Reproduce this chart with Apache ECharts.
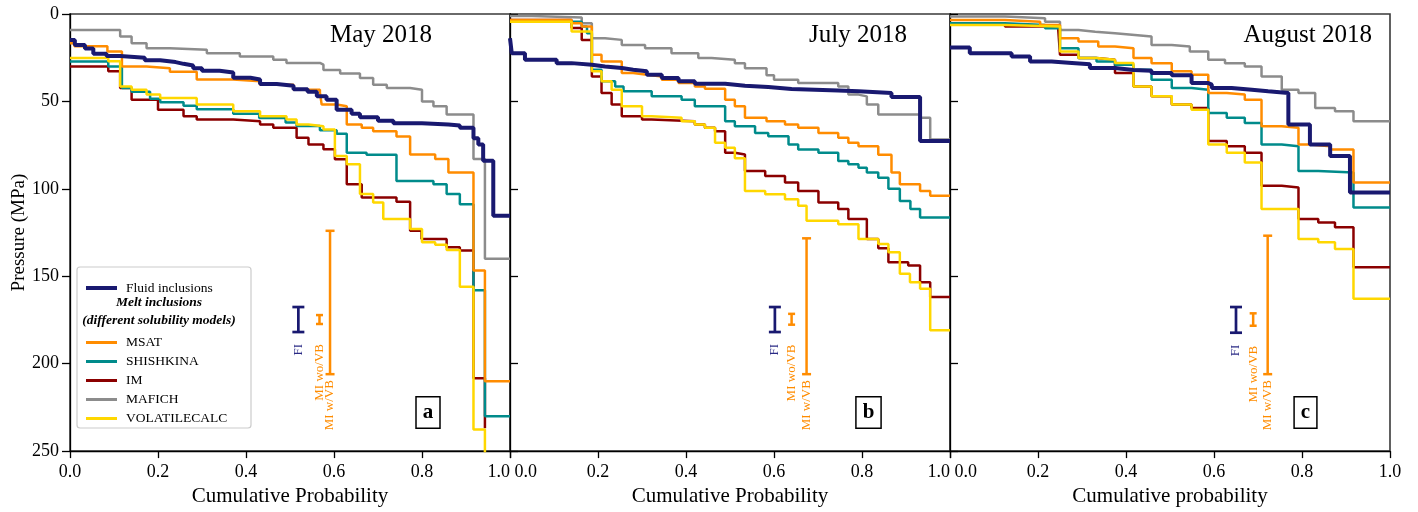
<!DOCTYPE html>
<html><head><meta charset="utf-8">
<script src="https://cdn.jsdelivr.net/npm/echarts@6/dist/echarts.min.js"></script>
<style>html,body{margin:0;padding:0;background:#fff}#c{width:1418px;height:512px}</style>
</head><body><div id="c"></div>
<script>
// ---------- data ----------
const panelTitles = ['May 2018', 'July 2018', 'August 2018'];
const panelLetters = ['a', 'b', 'c'];
const xAxisNames = ['Cumulative Probability', 'Cumulative Probability', 'Cumulative probability'];
const yAxisName = 'Pressure (MPa)';
const xTickStep = 0.2;
const yTickStep = 50;
const miNames = ['MSAT', 'SHISHKINA', 'IM', 'MAFICH', 'VOLATILECALC'];
const fiName = 'Fluid inclusions';
const errorLabels = ['FI', 'MI wo/VB', 'MI w/VB'];

// May 2018  [cumulative probability, pressure MPa]
const mayFI = [[0,14.8],[0.011,17.7],[0.034,19.7],[0.053,22.8],[0.083,24],[0.114,25],[0.17,26.5],[0.205,27.5],[0.24,28.5],[0.258,29.5],[0.28,31],[0.3,32.5],[0.34,33.5],[0.371,36.5],[0.41,37.5],[0.432,40],[0.47,41],[0.508,43],[0.54,44.5],[0.561,47],[0.583,49],[0.606,54.7],[0.64,57],[0.659,59],[0.7,61],[0.735,62.5],[0.8,63.2],[0.86,63.8],[0.886,65],[0.917,71],[0.928,74.6],[0.939,84],[0.962,115.4],[1,115.4]];
const mayMSAT = [[0,16.7],[0.01,18.5],[0.085,21.4],[0.118,30],[0.174,31],[0.227,33],[0.288,37.5],[0.371,38.5],[0.432,40.5],[0.508,43.3],[0.568,45],[0.572,51.8],[0.606,52.8],[0.629,63.2],[0.663,65.1],[0.689,67],[0.742,70],[0.773,80.3],[0.83,83],[0.86,90.7],[0.917,146.7],[0.943,210],[1,210]];
const mayShishkina = [[0,27.1],[0.087,30],[0.118,42.3],[0.14,44.5],[0.182,48.5],[0.205,50.5],[0.258,52.5],[0.288,54.5],[0.371,57],[0.43,59.5],[0.49,62],[0.515,64],[0.568,66.5],[0.606,68.5],[0.629,79.3],[0.674,80.5],[0.742,95.5],[0.826,97.4],[0.856,103],[0.886,108.8],[0.917,158],[0.943,230],[1,230]];
const mayIM = [[0,30],[0.087,32.8],[0.114,42.3],[0.14,49],[0.2,54.7],[0.258,58.5],[0.288,60.4],[0.371,61.3],[0.432,63.2],[0.462,65.1],[0.515,70.8],[0.542,74.6],[0.576,77.4],[0.602,83.1],[0.629,97.4],[0.663,105],[0.742,107.4],[0.773,124],[0.799,128.7],[0.856,133.4],[0.886,135.3],[0.917,208.4],[0.943,237]];
const mayMafich = [[0,9.1],[0.114,12.9],[0.14,16.7],[0.174,19.6],[0.227,20.5],[0.311,22.4],[0.386,24.3],[0.462,26.2],[0.492,28],[0.568,29],[0.576,32],[0.614,34],[0.659,36.6],[0.689,40.4],[0.72,42.3],[0.773,43.3],[0.8,50],[0.826,52.8],[0.856,57.5],[0.917,83],[0.943,140],[1,140]];
const mayVolatile = [[0,25.2],[0.087,27],[0.114,41.4],[0.14,43.3],[0.174,46],[0.205,48],[0.288,51.8],[0.371,55.6],[0.432,58.5],[0.492,60.4],[0.515,63.2],[0.542,64.2],[0.576,66],[0.602,81.2],[0.629,86],[0.659,103],[0.689,107.8],[0.712,117.3],[0.773,123],[0.8,130.6],[0.83,132],[0.856,135],[0.886,156],[0.917,237.7],[0.943,258]];

// July 2018
const julFI = [[0,13.9],[0.004,22.4],[0.034,26.2],[0.106,28.1],[0.14,29],[0.186,30],[0.216,30.9],[0.254,31.9],[0.28,32.8],[0.311,34.7],[0.345,36.6],[0.383,38.5],[0.42,39.9],[0.489,41],[0.534,41.8],[0.587,42.9],[0.64,43.7],[0.746,44.2],[0.792,45.2],[0.867,47.5],[0.932,72.7],[1,72.7]];
const julMSAT = [[0,3.4],[0.14,5.3],[0.163,7.2],[0.186,23.3],[0.208,27.1],[0.254,33.8],[0.28,34.7],[0.311,35.7],[0.345,37.6],[0.383,39.5],[0.42,41.4],[0.443,42.8],[0.489,49],[0.511,52.8],[0.534,59.4],[0.583,61.3],[0.625,63.2],[0.655,65.1],[0.701,68],[0.746,70.8],[0.769,73.7],[0.792,75.6],[0.837,80.5],[0.867,90.7],[0.886,97.4],[0.932,101.2],[0.955,104],[1,104]];
const julShishkina = [[0,4.4],[0.163,7.2],[0.175,11],[0.186,31.9],[0.208,38.5],[0.239,41.4],[0.258,44.2],[0.322,47.1],[0.39,49],[0.42,52.8],[0.489,61.3],[0.511,64.2],[0.557,68],[0.587,69.9],[0.633,74.6],[0.655,77.5],[0.701,79.3],[0.746,84.1],[0.769,86],[0.792,87.9],[0.811,90.7],[0.837,93.6],[0.86,100],[0.886,106.9],[0.91,111.6],[0.932,116.4],[1,116.4]];
const julIM = [[0,3.4],[0.14,8],[0.163,14.8],[0.186,35.7],[0.208,45.2],[0.231,51.8],[0.254,58.5],[0.3,60.4],[0.322,61.3],[0.42,63.2],[0.443,65.1],[0.466,67],[0.489,79.3],[0.511,80.3],[0.534,89.8],[0.58,92.6],[0.625,96.4],[0.655,101.2],[0.701,107.8],[0.746,111.6],[0.769,117.3],[0.811,128.7],[0.837,134],[0.86,142],[0.905,143.9],[0.932,153.4],[0.955,161.9],[1,161.9]];
const julMafich = [[0,1.1],[0.05,2],[0.163,5.3],[0.186,13.9],[0.216,14.8],[0.254,17.7],[0.307,19.6],[0.367,22.4],[0.428,25.2],[0.458,26.2],[0.511,28.1],[0.534,31],[0.583,35],[0.6,37.6],[0.655,39.5],[0.746,41.4],[0.769,46.1],[0.792,47.1],[0.811,51.8],[0.837,57.5],[0.932,59.4],[0.955,71.8],[1,71.8]];
const julVolatile = [[0,4.5],[0.14,10],[0.186,32.8],[0.208,38.5],[0.231,43.3],[0.254,52.8],[0.3,58.5],[0.322,59.4],[0.39,61.3],[0.42,63.2],[0.443,65.1],[0.466,73.7],[0.489,76.5],[0.511,82.5],[0.534,101.2],[0.58,103.1],[0.625,105.9],[0.655,109.7],[0.674,118.3],[0.746,120.2],[0.792,128.7],[0.837,131.5],[0.86,136.3],[0.886,148.6],[0.909,153.4],[0.932,157.2],[0.955,180.9],[1,180.9]];

// August 2018
const augFI = [[0,19.2],[0.045,22.4],[0.14,24.3],[0.182,27.1],[0.231,28],[0.277,28.8],[0.318,30.9],[0.375,32],[0.417,32.5],[0.458,33.8],[0.504,35],[0.549,39.5],[0.587,40.4],[0.595,42.3],[0.64,43.3],[0.686,44.2],[0.723,45.2],[0.769,63.2],[0.818,74.6],[0.864,81.2],[0.909,102.1],[1,102.1]];
const augMSAT = [[0,3.4],[0.125,4.4],[0.205,6.3],[0.25,13.9],[0.292,15.8],[0.337,18.6],[0.375,19.6],[0.417,25.2],[0.458,28.1],[0.504,32.8],[0.549,34.7],[0.587,45.2],[0.629,46.1],[0.67,49],[0.708,64.2],[0.754,65.1],[0.792,74.6],[0.818,75.6],[0.864,77.5],[0.917,96.4],[1,96.4]];
const augShishkina = [[0,5.3],[0.125,6.3],[0.216,8.2],[0.25,19.6],[0.292,25.2],[0.333,27.1],[0.375,29],[0.417,31.9],[0.458,37.6],[0.504,42.3],[0.549,43.3],[0.587,56.6],[0.629,59.4],[0.67,62.3],[0.708,74.6],[0.754,75.6],[0.792,89.8],[0.837,90.7],[0.917,110.7],[1,110.7]];
const augIM = [[0,5.3],[0.125,7.2],[0.246,9],[0.25,23.3],[0.292,25.2],[0.333,26.2],[0.375,33.8],[0.417,41.4],[0.458,47.1],[0.504,51.8],[0.549,53.7],[0.587,72.7],[0.629,75.6],[0.67,79.3],[0.708,98.3],[0.754,99.3],[0.792,117.3],[0.837,119.2],[0.875,122],[0.917,144.8],[1,144.8]];
const augMafich = [[0,1.5],[0.125,2.5],[0.216,4.4],[0.25,9.1],[0.292,10.1],[0.33,11],[0.375,12],[0.42,12.9],[0.458,17.7],[0.504,18.6],[0.545,21.4],[0.587,26.2],[0.625,28.1],[0.67,30],[0.708,35.7],[0.754,43.3],[0.792,45.2],[0.83,53.7],[0.875,55.6],[0.917,61.3],[1,61.3]];
const augVolatile = [[0,6.3],[0.125,7.2],[0.25,21.4],[0.292,25.2],[0.333,26.2],[0.375,28],[0.417,41.4],[0.458,47.1],[0.504,51.8],[0.549,54.7],[0.587,74.6],[0.629,79.3],[0.67,85],[0.708,111.6],[0.792,128.7],[0.837,130.6],[0.875,134.4],[0.917,162.9],[1,162.9]];

// error bars [x, low MPa, high MPa] : FI, MI wo/VB, MI w/VB
const errMay = [[0.519,167.6,181.9],[0.567,172.2,177.3],[0.591,124,206]];
const errJul = [[0.602,167.6,181.9],[0.640,171.5,177.7],[0.674,128.3,206]];
const errAug = [[0.650,167.6,182.3],[0.689,171.2,178.3],[0.722,126.8,206]];

// ---------- build ----------
const panelData = [
  {MSAT: mayMSAT, SHISHKINA: mayShishkina, IM: mayIM, MAFICH: mayMafich, VOLATILECALC: mayVolatile, FI: mayFI, err: errMay},
  {MSAT: julMSAT, SHISHKINA: julShishkina, IM: julIM, MAFICH: julMafich, VOLATILECALC: julVolatile, FI: julFI, err: errJul},
  {MSAT: augMSAT, SHISHKINA: augShishkina, IM: augIM, MAFICH: augMafich, VOLATILECALC: augVolatile, FI: augFI, err: errAug}
];
const colors = {MSAT:'#ff8c00', SHISHKINA:'#008b8b', IM:'#8b0000', MAFICH:'#8c8c8c', VOLATILECALC:'#ffd700', FI:'#191970'};
const FONT = "'Liberation Serif','DejaVu Serif',serif";
const gridLeft = [70, 510, 950];
const gridW = 440, gridTop = 14, gridH = 439;

const drawOrder = ['MAFICH','IM','SHISHKINA','MSAT','VOLATILECALC'];
const grids = [], xAxes = [], yAxes = [], series = [];
const alignMin = ['center','left','left'];
const alignMax = ['right','right','center'];
for (let p = 0; p < 3; p++) {
  grids.push({left: gridLeft[p], top: gridTop, width: gridW, height: gridH, show: true, borderColor: '#3a3a3a', borderWidth: 1.6, backgroundColor: 'transparent'});
  xAxes.push({
    type: 'value', gridIndex: p, position: 'bottom', min: 0, max: 1, interval: xTickStep,
    name: xAxisNames[p], nameLocation: 'middle', nameGap: 33,
    nameTextStyle: {fontFamily: FONT, fontSize: 21, color: '#000'},
    axisLine: {show: true, onZero: false, lineStyle: {color: '#000', width: 1.3}},
    axisTick: {show: true, length: 7, lineStyle: {color: '#000', width: 1.3}},
    axisLabel: {fontFamily: FONT, fontSize: 18, color: '#000', margin: 12,
      formatter: v => (p > 0 && v === 0 ? ' ' : '') + v.toFixed(1), alignMinLabel: alignMin[p], alignMaxLabel: alignMax[p]},
    splitLine: {show: false}
  });
  yAxes.push({
    type: 'value', gridIndex: p, position: 'left', min: 0, max: 250, interval: yTickStep, inverse: true,
    name: p === 0 ? yAxisName : '', nameLocation: 'middle', nameGap: 40, nameRotate: 90,
    nameTextStyle: {fontFamily: FONT, fontSize: 19, color: '#000'},
    axisLine: {show: true, onZero: false, lineStyle: {color: '#000', width: 1.3}},
    axisTick: {show: true, inside: p > 0, length: 8, lineStyle: {color: '#000', width: 1.3}},
    axisLabel: {show: p === 0, fontFamily: FONT, fontSize: 18, color: '#000', margin: 11},
    splitLine: {show: false}
  });
  const d = panelData[p];
  drawOrder.forEach(nm => {
    series.push({type: 'line', name: nm, xAxisIndex: p, yAxisIndex: p, data: d[nm], step: 'end',
      showSymbol: false, symbol: 'none', z: 2, clip: true,
      lineStyle: {color: colors[nm], width: 2.5}, itemStyle: {color: colors[nm]}});
  });
  series.push({type: 'line', name: fiName, xAxisIndex: p, yAxisIndex: p, data: d.FI, step: 'end',
    showSymbol: false, symbol: 'none', z: 3, clip: true,
    lineStyle: {color: colors.FI, width: 4}, itemStyle: {color: colors.FI}});
  const barStyle = [
    {color: colors.FI, w: 2.7, cap: 6, off: 12},
    {color: colors.MSAT, w: 2.5, cap: 3.5, off: 20},
    {color: colors.MSAT, w: 2.5, cap: 4.5, off: 6}
  ];
  series.push({
    type: 'custom', xAxisIndex: p, yAxisIndex: p, data: d.err, z: 4, clip: false,
    renderItem: function (params, api) {
      const i = params.dataIndex, st = barStyle[i];
      const x = api.value(0);
      const a = api.coord([x, api.value(1)]);
      const b = api.coord([x, api.value(2)]);
      const ls = {stroke: st.color, lineWidth: st.w};
      return {type: 'group', children: [
        {type: 'line', shape: {x1: a[0], y1: a[1], x2: b[0], y2: b[1]}, style: ls},
        {type: 'line', shape: {x1: a[0] - st.cap, y1: a[1], x2: a[0] + st.cap, y2: a[1]}, style: ls},
        {type: 'line', shape: {x1: b[0] - st.cap, y1: b[1], x2: b[0] + st.cap, y2: b[1]}, style: ls},
        {type: 'text', x: b[0], y: b[1] + st.off, rotation: Math.PI / 2,
          style: {text: errorLabels[i], fill: i === 0 ? '#2a2a85' : st.color, font: '13px ' + FONT, align: 'right', verticalAlign: 'middle'}}
      ]};
    }
  });
}

const titlePos = [[432, 35], [907, 35], [1372, 35]];
const letterPos = [[428, 412.5], [868.5, 412.5], [1305.5, 412.5]];
const graphic = [];
for (let p = 0; p < 3; p++) {
  graphic.push({type: 'text', x: titlePos[p][0], y: titlePos[p][1], z: 10,
    style: {text: panelTitles[p], font: '25px ' + FONT, fill: '#000', align: 'right', verticalAlign: 'middle'}});
  graphic.push({type: 'text', x: letterPos[p][0], y: letterPos[p][1], z: 10,
    style: {text: panelLetters[p], font: 'bold 21px ' + FONT, fill: '#000', align: 'center', verticalAlign: 'middle',
      backgroundColor: '#fff', borderColor: '#000', borderWidth: 1.5, padding: [4, 6, 5, 6]}});
}
graphic.push({type: 'rect', shape: {x: 77, y: 267, width: 174, height: 161, r: 3}, z: 1,
  style: {fill: '#fff', stroke: '#cccccc', lineWidth: 1.2}});
graphic.push({type: 'text', x: 159, y: 303, z: 10,
  style: {text: 'Melt inclusions', font: 'italic bold 13.5px ' + FONT, fill: '#000', align: 'center', verticalAlign: 'middle'}});
graphic.push({type: 'text', x: 159, y: 321, z: 10,
  style: {text: '(different solubility models)', font: 'italic bold 13.5px ' + FONT, fill: '#000', align: 'center', verticalAlign: 'middle'}});

const option = {
  animation: false,
  backgroundColor: '#fff',
  textStyle: {fontFamily: FONT},
  grid: grids, xAxis: xAxes, yAxis: yAxes, series: series,
  legend: [
    {data: [fiName], left: 81, top: 276, itemWidth: 31, itemHeight: 4, icon: 'rect', selectedMode: false, z: 5,
      textStyle: {fontFamily: FONT, fontSize: 13.5, color: '#000', padding: [0, 0, 0, 4]}},
    {data: miNames, orient: 'vertical', left: 81, top: 328, itemWidth: 31, itemHeight: 3, icon: 'rect', itemGap: 0, selectedMode: false, z: 5,
      textStyle: {fontFamily: FONT, fontSize: 13.5, lineHeight: 19, color: '#000', padding: [0, 0, 0, 4]}}
  ],
  graphic: graphic
};
const chart = echarts.init(document.getElementById('c'), null, {renderer: 'canvas'});
chart.setOption(option);
</script>
</body></html>
